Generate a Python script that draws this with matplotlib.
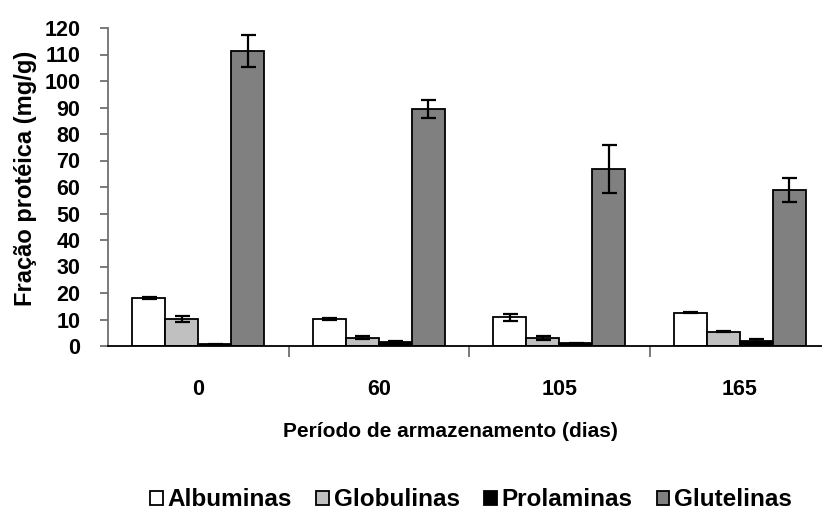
import matplotlib
matplotlib.use("Agg")
import matplotlib.pyplot as plt
import numpy as np

categories = ["0", "60", "105", "165"]
series = ["Albuminas", "Globulinas", "Prolaminas", "Glutelinas"]
albuminas = [18.1, 10.1, 10.8, 12.5]
albuminas_err = [0.5, 0.3, 1.3, 0.2]
globulinas = [10.2, 3.1, 3.0, 5.4]
globulinas_err = [1.3, 0.6, 0.6, 0.1]
prolaminas = [0.7, 1.6, 1.0, 2.0]
prolaminas_err = [0.2, 0.2, 0.2, 0.6]
glutelinas = [111.4, 89.5, 66.7, 58.9]
glutelinas_err = [6.0, 3.5, 9.0, 4.5]
colors = ["#ffffff", "#c0c0c0", "#000000", "#808080"]

plt.rcParams['font.family'] = ['Liberation Sans', 'DejaVu Sans']
plt.rcParams['font.weight'] = 'bold'

W, H = 822, 522
fig = plt.figure(figsize=(W / 100, H / 100), dpi=100)
left, right = 108, 830
top, bottom = 28, 346
ax = fig.add_axes([left / W, 1 - bottom / H, (right - left) / W, (bottom - top) / H])

vals = [albuminas, globulinas, prolaminas, glutelinas]
errs = [albuminas_err, globulinas_err, prolaminas_err, glutelinas_err]
x = np.arange(len(categories))
bw = 0.183
handles = []
for i, (v, e, c, name) in enumerate(zip(vals, errs, colors, series)):
    pos = x + (i - 1.5) * bw
    b = ax.bar(pos, v, width=bw, color=c, edgecolor='black', linewidth=1.3, label=name, zorder=2)
    ax.errorbar(pos, v, yerr=e, fmt='none', ecolor='black', elinewidth=1.6, capsize=5.4, capthick=1.6, zorder=3)
    handles.append(b)

ax.set_xlim(-0.5, len(categories) - 0.5)
ax.set_ylim(0, 120)
ax.set_yticks(np.arange(0, 121, 10))
ax.set_xticks(x)
ax.set_xticklabels(categories)
ax.set_xticks(np.arange(0.5, len(categories) - 0.5, 1.0), minor=True)
ax.tick_params(axis='x', which='major', length=0, pad=24, labelsize=15.5)
ax.tick_params(axis='x', which='minor', length=8, width=1.3, color='#707070', direction='out')
ax.tick_params(axis='y', length=6, width=1.3, color='#707070', labelsize=15.5, pad=14)
for lab in ax.get_xticklabels() + ax.get_yticklabels():
    lab.set_fontweight('bold')

ax.spines['top'].set_visible(False)
ax.spines['right'].set_visible(False)
ax.spines['left'].set_color('#707070')
ax.spines['left'].set_linewidth(1.3)
ax.spines['bottom'].set_color('black')
ax.spines['bottom'].set_linewidth(1.3)

ax.set_xlabel("Período de armazenamento (dias)", fontsize=15, fontweight='bold')
ax.xaxis.set_label_coords((450 - left) / (right - left), -(422 - bottom) / (bottom - top))
ax.set_ylabel("Fração protéica (mg/g)", fontsize=17, fontweight='bold')
ax.yaxis.set_label_coords(-(108 - 37) / (right - left), (346 - 178) / (bottom - top))

fig.legend(handles=handles, labels=series, loc='center', bbox_to_anchor=(471 / W, 1 - 500 / H),
           ncol=4, frameon=False, handlelength=0.52, handleheight=0.52, handletextpad=0.2,
           columnspacing=1.0, prop={'size': 17.5, 'weight': 'bold'})

fig.savefig("out.png", dpi=100)
